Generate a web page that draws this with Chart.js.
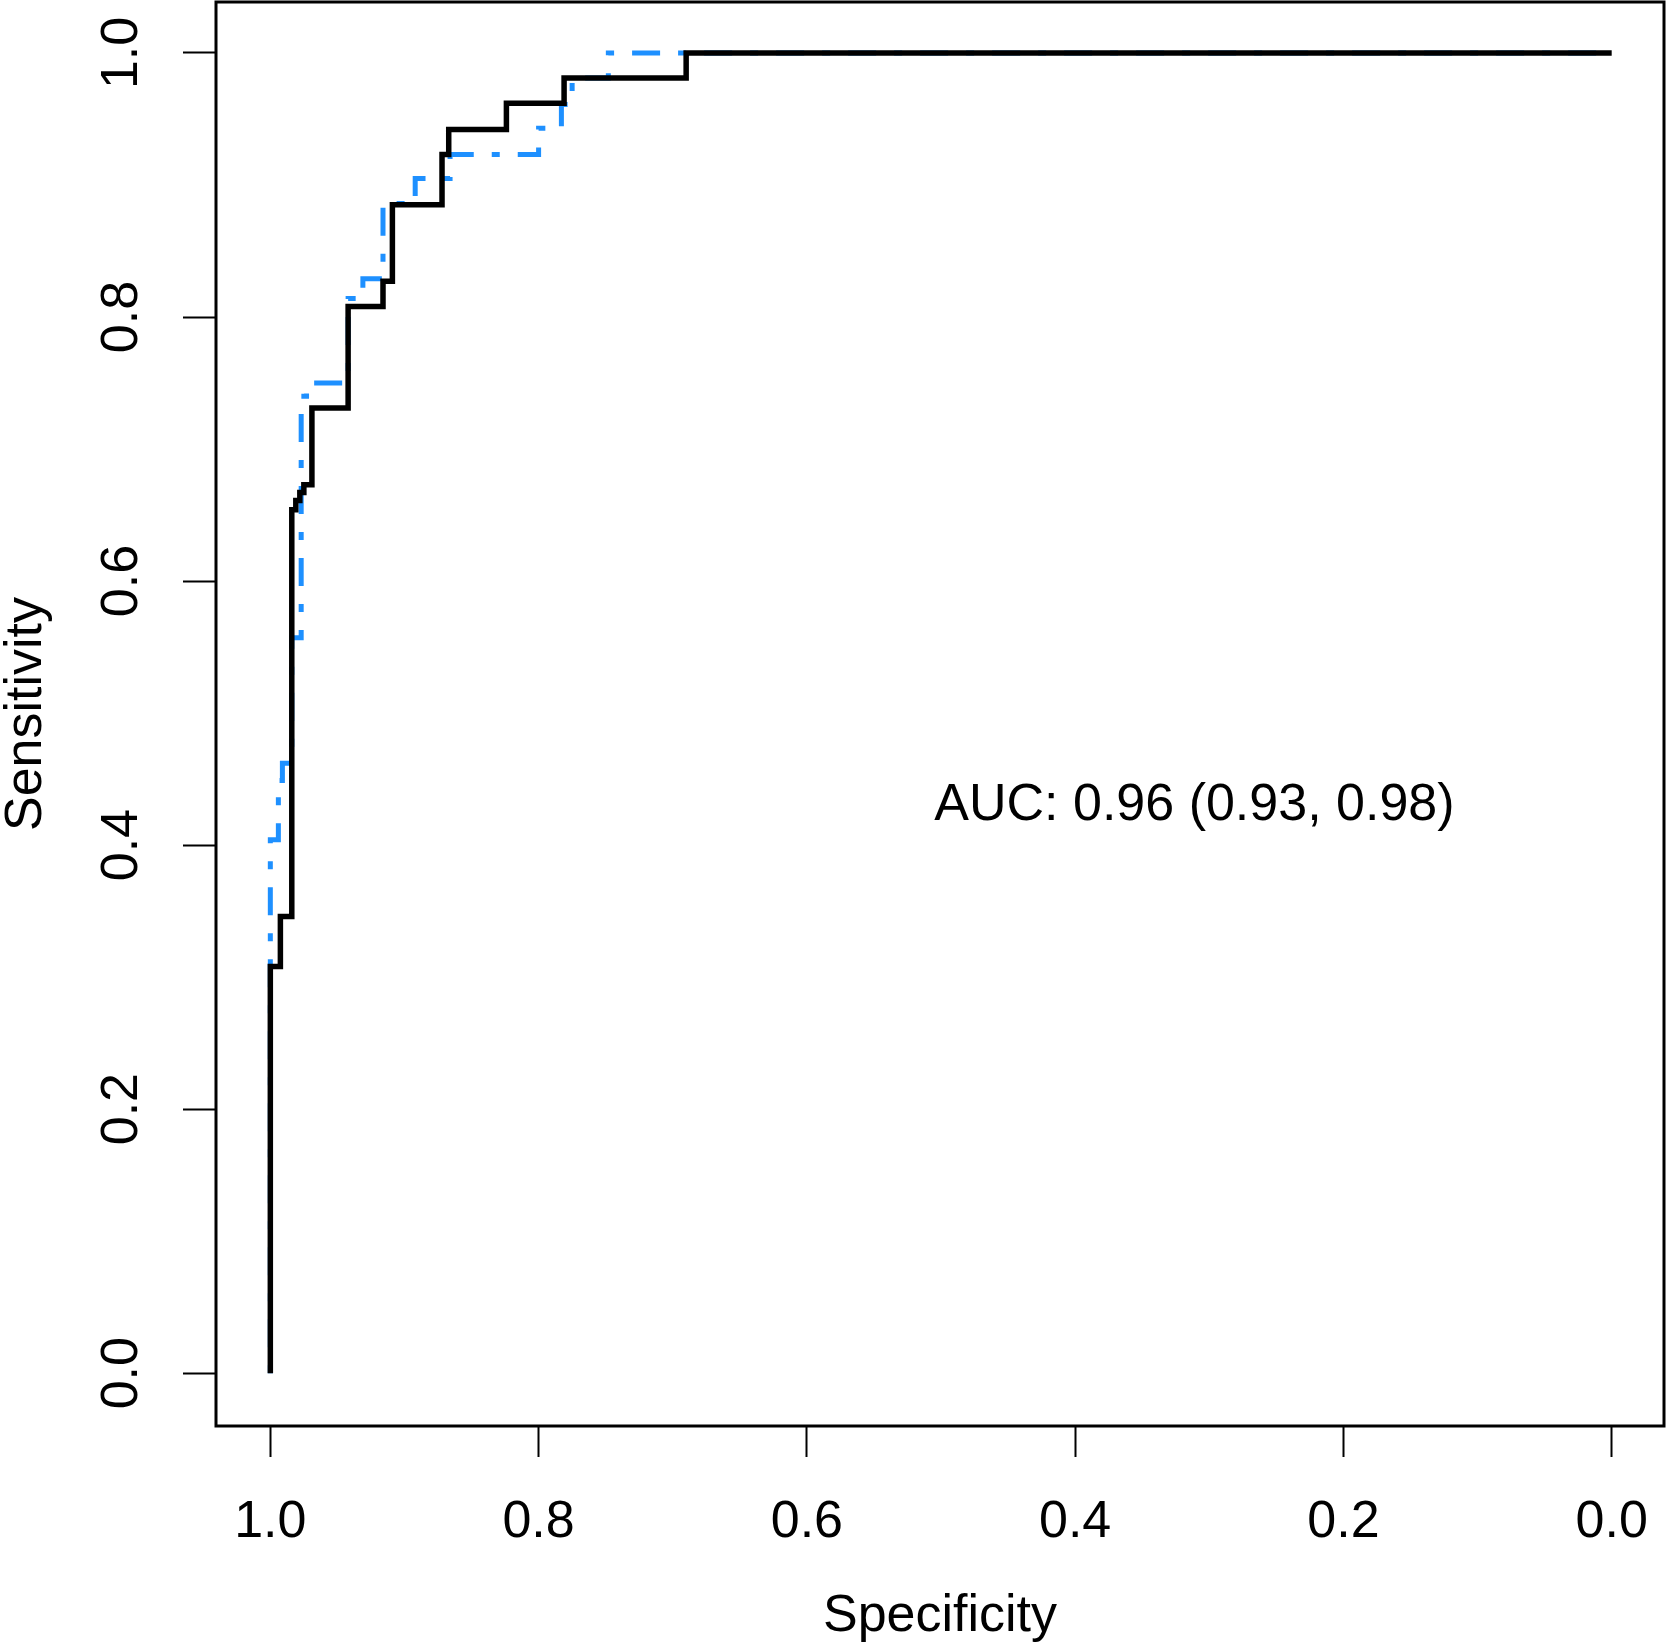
<!DOCTYPE html>
<html>
<head>
<meta charset="utf-8">
<title>ROC</title>
<script src="https://cdn.jsdelivr.net/npm/chart.js@4.4.1/dist/chart.umd.min.js"></script>
<style>
  html, body { margin: 0; padding: 0; background: #fff; }
  #wrap { width: 1667px; height: 1645px; }
</style>
</head>
<body>
<div id="wrap"><canvas id="roc" width="1667" height="1645"></canvas></div>
<script>
// values
const xTicks = [1.0, 0.8, 0.6, 0.4, 0.2, 0.0];
const yTicks = [0.0, 0.2, 0.4, 0.6, 0.8, 1.0];

// solid black curve
const blackSpec = [1.0, 1.0, 0.9925, 0.9925, 0.984, 0.984, 0.981, 0.981, 0.978, 0.978, 0.975, 0.975,
  0.969, 0.969, 0.942, 0.942, 0.916, 0.916, 0.909, 0.909, 0.872, 0.872, 0.867, 0.867,
  0.824, 0.824, 0.781, 0.781, 0.690, 0.690, 0.0];
const blackSens = [0.0, 0.308, 0.308, 0.346, 0.346, 0.654, 0.654, 0.661, 0.661, 0.667, 0.667, 0.673,
  0.673, 0.731, 0.731, 0.808, 0.808, 0.827, 0.827, 0.885, 0.885, 0.923, 0.923, 0.942,
  0.942, 0.962, 0.962, 0.981, 0.981, 1.0, 1.0];

// blue dot-dash curve
const blueSpec = [1.0, 1.0, 0.994, 0.994, 0.991, 0.991, 0.984, 0.984, 0.977, 0.977, 0.973, 0.973,
  0.942, 0.942, 0.931, 0.931, 0.916, 0.916, 0.892, 0.892, 0.866, 0.866, 0.800, 0.800,
  0.783, 0.783, 0.775, 0.775, 0.748, 0.748, 0.0];
const blueSens = [0.0, 0.404, 0.404, 0.449, 0.449, 0.462, 0.462, 0.557, 0.557, 0.740, 0.740, 0.750,
  0.750, 0.814, 0.814, 0.829, 0.829, 0.886, 0.886, 0.905, 0.905, 0.923, 0.923, 0.943,
  0.943, 0.961, 0.961, 0.981, 0.981, 1.0, 1.0];

const aucLabel = "AUC: 0.96 (0.93, 0.98)";
const aucAt = [0.505, 0.43];

const FONT = "'Liberation Sans', Arial, sans-serif";

function toPoints(xs, ys) {
  return xs.map((x, i) => ({ x: x, y: ys[i] }));
}

const boxAndText = {
  id: "boxAndText",
  afterDraw(chart) {
    const { ctx, chartArea, scales } = chart;
    ctx.save();
    ctx.strokeStyle = "#000";
    ctx.lineWidth = 3;
    ctx.strokeRect(chartArea.left, chartArea.top,
      chartArea.right - chartArea.left, chartArea.bottom - chartArea.top);

    // y tick labels, rotated like R's las = 0
    ctx.fillStyle = "#000";
    ctx.font = "52px " + FONT;
    ctx.textAlign = "center";
    ctx.textBaseline = "middle";
    yTicks.forEach((v) => {
      const py = scales.y.getPixelForValue(v);
      ctx.save();
      ctx.translate(chartArea.left - 93, py);
      ctx.rotate(-Math.PI / 2);
      ctx.fillText(v.toFixed(1), 0, 0);
      ctx.restore();
    });

    ctx.textAlign = "left";
    ctx.fillText(aucLabel, scales.x.getPixelForValue(aucAt[0]), scales.y.getPixelForValue(aucAt[1]));
    ctx.restore();
  }
};

new Chart(document.getElementById("roc"), {
  type: "line",
  data: {
    datasets: [
      {
        label: "black",
        data: toPoints(blackSpec, blackSens),
        borderColor: "#000",
        borderWidth: 5.5,
        pointRadius: 0,
        tension: 0,
        order: 0
      },
      {
        label: "blue",
        data: toPoints(blueSpec, blueSens),
        borderColor: "#1E90FF",
        borderWidth: 5,
        borderDash: [8, 18, 28, 18],
        pointRadius: 0,
        tension: 0,
        order: 1
      }
    ]
  },
  options: {
    responsive: false,
    devicePixelRatio: 1,
    animation: false,
    layout: { padding: { left: 0, right: 3, top: 2, bottom: 0 } },
    plugins: { legend: { display: false }, tooltip: { enabled: false } },
    scales: {
      x: {
        type: "linear",
        reverse: true,
        min: -0.039,
        max: 1.0405,
        afterBuildTicks: (s) => { s.ticks = xTicks.map((v) => ({ value: v })); },
        afterFit: (s) => { s.height = 219; s.paddingLeft = 0; s.paddingRight = 0; },
        border: { display: false },
        grid: { drawOnChartArea: false, tickLength: 31, tickWidth: 2, tickColor: "#000" },
        ticks: {
          autoSkip: false,
          maxRotation: 0,
          padding: 34,
          color: "#000",
          font: { family: FONT, size: 52 },
          callback: (v) => Number(v).toFixed(1)
        },
        title: {
          display: true,
          text: "Specificity",
          color: "#000",
          font: { family: FONT, size: 52, lineHeight: 1 },
          padding: { top: 0, bottom: 2 }
        }
      },
      y: {
        type: "linear",
        min: -0.04,
        max: 1.0386,
        afterBuildTicks: (s) => { s.ticks = yTicks.map((v) => ({ value: v })); },
        afterFit: (s) => { s.width = 216; s.paddingTop = 0; s.paddingBottom = 0; },
        border: { display: false },
        grid: { drawOnChartArea: false, tickLength: 33, tickWidth: 2, tickColor: "#000" },
        ticks: { display: false },
        title: {
          display: true,
          text: "Sensitivity",
          color: "#000",
          font: { family: FONT, size: 52, lineHeight: 1 },
          padding: { top: 1, bottom: 0 }
        }
      }
    }
  },
  plugins: [boxAndText]
});
</script>
</body>
</html>
